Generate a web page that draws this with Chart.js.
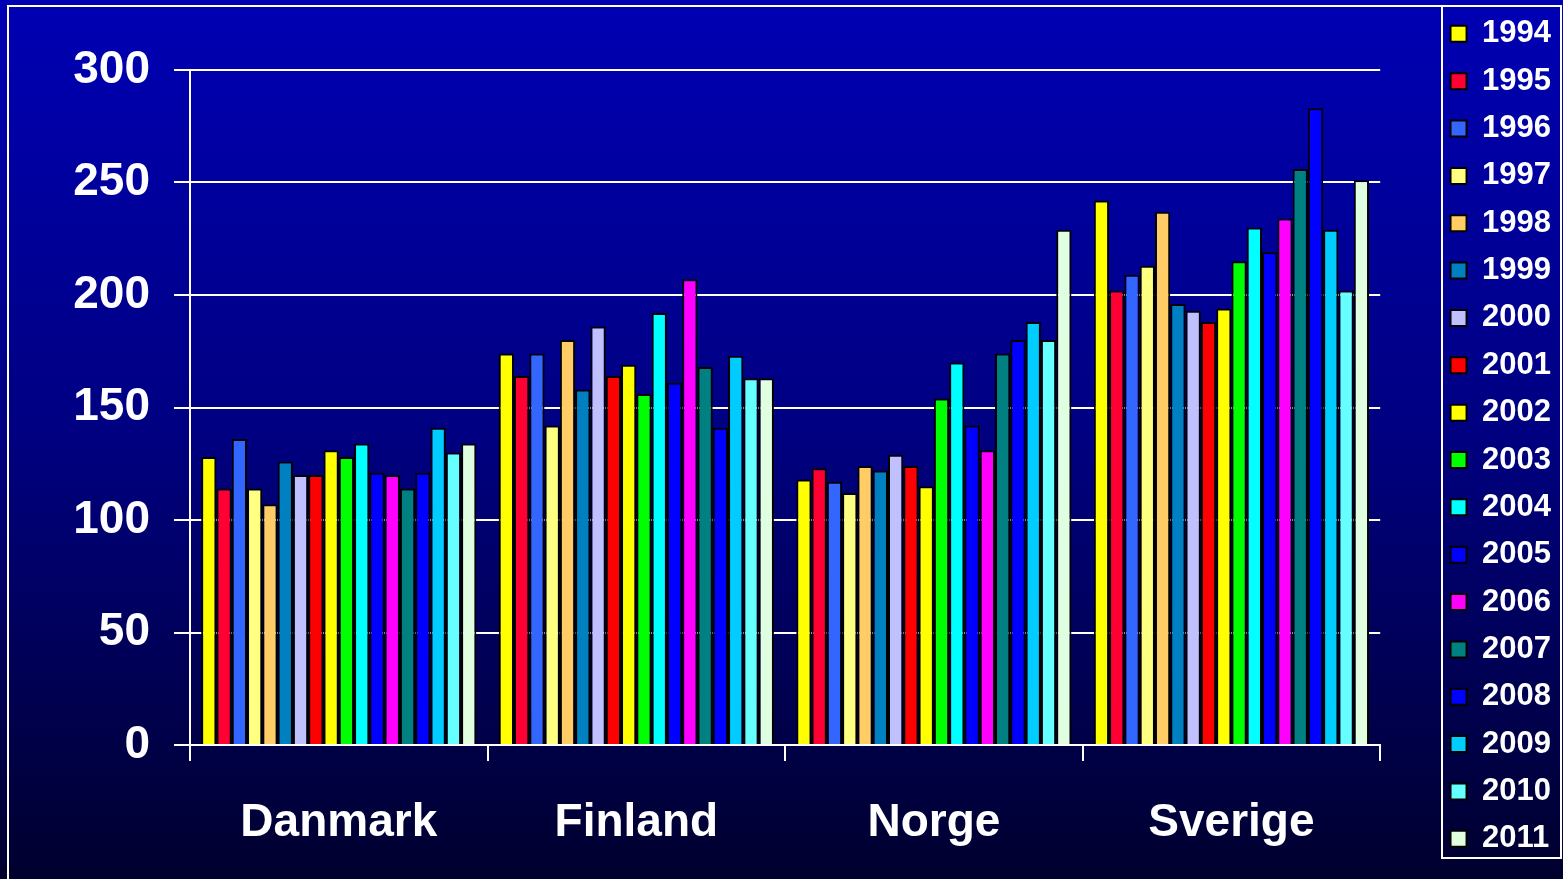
<!DOCTYPE html>
<html>
<head>
<meta charset="utf-8">
<title>Norden 1994-2011</title>
<script src="https://cdn.jsdelivr.net/npm/chart.js@4.4.1/dist/chart.umd.min.js"></script>
<style>
    html, body { margin: 0; padding: 0; background: #000060; }
    #wrap { width: 1563px; height: 879px; }
</style>
</head>
<body>
<div id="wrap"><canvas id="nordicChart" width="1563" height="879"></canvas></div>
<script>
// categories and series
const countries = ['Danmark', 'Finland', 'Norge', 'Sverige'];
const years = ['1994', '1995', '1996', '1997', '1998', '1999', '2000', '2001', '2002',
               '2003', '2004', '2005', '2006', '2007', '2008', '2009', '2010', '2011'];
const yTicks = [0, 50, 100, 150, 200, 250, 300];

// values per country, one per year
const danmark = [128, 114, 136, 114, 107, 126, 120, 120, 131, 128, 134, 121, 120, 114, 121, 141, 130, 134];
const finland = [174, 164, 174, 142, 180, 158, 186, 164, 169, 156, 192, 161, 207, 168, 141, 173, 163, 163];
const norge   = [118, 123, 117, 112, 124, 122, 129, 124, 115, 154, 170, 142, 131, 174, 180, 188, 180, 229];
const sverige = [242, 202, 209, 213, 237, 196, 193, 188, 194, 215, 230, 219, 234, 256, 283, 229, 202, 251];

const yearColors = ['#ffff00', '#ff0033', '#3366ff', '#ffff80', '#ffcc66', '#0080c0',
                    '#c0c0ff', '#ff0000', '#ffff00', '#00ff00', '#00ffff', '#0000ff',
                    '#ff00ff', '#008080', '#0000ff', '#00ccff', '#66ffff', '#e0ffe0'];

Chart.defaults.font.family = '"Liberation Sans", Arial, sans-serif';
Chart.defaults.color = '#ffffff';

// slide background + white frames
const backdrop = {
    id: 'backdrop',
    beforeDraw(chart) {
        const { ctx, width, height } = chart;
        const g = ctx.createLinearGradient(0, 0, 0, height);
        g.addColorStop(0, '#0000b4');
        g.addColorStop(0.5, '#000080');
        g.addColorStop(1, '#00002e');
        ctx.save();
        ctx.fillStyle = g;
        ctx.fillRect(0, 0, width, height);
        ctx.strokeStyle = '#ffffff';
        ctx.lineWidth = 2;
        ctx.beginPath();
        ctx.moveTo(8, height);
        ctx.lineTo(8, 6);
        ctx.lineTo(1561, 6);
        ctx.stroke();
        ctx.strokeRect(1442, 6, 119, 852);
        ctx.restore();
    }
};

const datasets = years.map((yr, i) => ({
    label: yr,
    data: [danmark[i], finland[i], norge[i], sverige[i]],
    backgroundColor: yearColors[i],
    borderColor: '#000000',
    borderWidth: 2
}));

const ctx = document.getElementById('nordicChart').getContext('2d');
new Chart(ctx, {
    type: 'bar',
    data: { labels: countries, datasets: datasets },
    options: {
        responsive: false,
        animation: false,
        layout: { padding: { top: 2, right: 2, bottom: 2, left: 8 } },
        datasets: { bar: { categoryPercentage: 0.925, barPercentage: 1.0 } },
        plugins: {
            legend: {
                position: 'right',
                align: 'start',
                labels: {
                    color: '#ffffff',
                    font: { size: 31, weight: 'bold' },
                    boxWidth: 16,
                    boxHeight: 16,
                    padding: 16.35
                }
            },
            tooltip: { enabled: false }
        },
        scales: {
            x: {
                type: 'category',
                offset: true,
                grid: {
                    offset: true,
                    drawOnChartArea: false,
                    drawTicks: true,
                    tickLength: 16,
                    color: '#ffffff',
                    lineWidth: 2
                },
                border: { color: '#ffffff', width: 2 },
                ticks: { color: '#ffffff', font: { size: 46, weight: 'bold' }, padding: 35 },
                afterFit(s) { s.height = 132; }
            },
            y: {
                min: 0,
                max: 300,
                afterBuildTicks(s) { s.ticks = yTicks.map(v => ({ value: v })); },
                grid: { color: '#ffffff', lineWidth: 2, tickLength: 16 },
                border: { color: '#ffffff', width: 2 },
                ticks: { color: '#ffffff', font: { size: 46, weight: 'bold' }, padding: 24 },
                afterFit(s) { s.width = 182; }
            },
            // spacers: keep the plot area where the slide has it
            padTop: {
                type: 'linear', position: 'top', display: true,
                ticks: { display: false }, grid: { display: false }, border: { display: false },
                afterFit(s) { s.height = 68; }
            },
            padRight: {
                type: 'linear', position: 'right', display: true,
                ticks: { display: false }, grid: { display: false }, border: { display: false },
                afterFit(s) { s.width = 54; }
            }
        }
    },
    plugins: [backdrop]
});
</script>
</body>
</html>
